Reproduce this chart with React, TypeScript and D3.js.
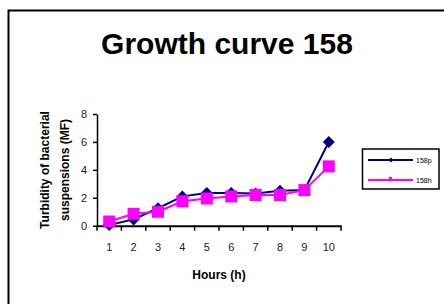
import React, { useEffect, useRef } from "react";
import * as d3 from "d3";

const hours = ["1", "2", "3", "4", "5", "6", "7", "8", "9", "10"];
const p158 = [0.05, 0.45, 1.25, 2.1, 2.35, 2.35, 2.3, 2.5, 2.55, 6.0];
const h158 = [0.3, 0.85, 1.0, 1.75, 1.95, 2.1, 2.2, 2.2, 2.55, 4.25];
const yTicks = [0, 2, 4, 6, 8];

const NAVY = "#000080";
const PINK = "#ff00ff";
const FONT = "Arial, 'Liberation Sans', sans-serif";

const App = () => {
  const svgRef = useRef<SVGSVGElement>(null);

  useEffect(() => {
    const svg = d3.select(svgRef.current);
    svg.selectAll("*").remove();

    const left = 97, right = 341, top = 114, bottom = 225.7;

    const x = d3.scaleBand().domain(hours).range([left, right]);
    const y = d3.scaleLinear().domain([0, 8]).range([bottom, top]);

    // outer frame
    svg.append("rect")
      .attr("x", 8.5).attr("y", 10.5)
      .attr("width", 600).attr("height", 500)
      .attr("fill", "white").attr("stroke", "black").attr("stroke-width", 2);

    svg.append("text")
      .attr("x", 227).attr("y", 54)
      .attr("text-anchor", "middle")
      .attr("font-family", FONT).attr("font-weight", "bold").attr("font-size", 30)
      .text("Growth curve 158");

    // axes
    const xAxis = svg.append("g")
      .attr("transform", `translate(0,${bottom})`)
      .call(d3.axisBottom(x).tickSize(0).tickPadding(18));
    xAxis.select(".domain").attr("stroke", "black").attr("stroke-width", 2);
    xAxis.selectAll("text").attr("font-family", FONT).attr("font-size", 11).attr("fill", "#222");
    xAxis.selectAll("line.bound")
      .data(d3.range(hours.length + 1))
      .join("line")
      .attr("class", "bound")
      .attr("x1", i => left + i * x.bandwidth())
      .attr("x2", i => left + i * x.bandwidth())
      .attr("y1", 0).attr("y2", 5)
      .attr("stroke", "black").attr("stroke-width", 1.5);

    const yAxis = svg.append("g")
      .attr("transform", `translate(${left},0)`)
      .call(d3.axisLeft(y).tickValues(yTicks).tickSize(4).tickPadding(6).tickSizeOuter(0));
    yAxis.select(".domain").attr("stroke", "black").attr("stroke-width", 1.5);
    yAxis.selectAll("line").attr("stroke", "black").attr("stroke-width", 1.5);
    yAxis.selectAll("text").attr("font-family", FONT).attr("font-size", 11).attr("fill", "#222");

    // axis titles
    svg.append("text")
      .attr("x", 219).attr("y", 279)
      .attr("text-anchor", "middle")
      .attr("font-family", FONT).attr("font-weight", "bold").attr("font-size", 12)
      .text("Hours (h)");

    const yt = svg.append("text")
      .attr("transform", "translate(49,170) rotate(-90)")
      .attr("text-anchor", "middle")
      .attr("font-family", FONT).attr("font-weight", "bold").attr("font-size", 12);
    yt.append("tspan").attr("x", 0).attr("dy", 0).text("Turbidity of bacterial");
    yt.append("tspan").attr("x", 0).attr("dy", 20).text("suspensions (MF)");

    const cx = (i: number) => (x(hours[i]) as number) + x.bandwidth() / 2;
    const line = d3.line<number>().x((_, i) => cx(i)).y(d => y(d));

    svg.append("path").datum(p158)
      .attr("d", line).attr("fill", "none").attr("stroke", NAVY).attr("stroke-width", 2);
    svg.append("path").datum(h158)
      .attr("d", line).attr("fill", "none").attr("stroke", PINK).attr("stroke-width", 2);

    const diamond = (px: number, py: number, r: number) =>
      `M${px},${py - r}L${px + r},${py}L${px},${py + r}L${px - r},${py}Z`;

    svg.append("g").selectAll("path")
      .data(p158)
      .join("path")
      .attr("d", (d, i) => diamond(cx(i), y(d), 6))
      .attr("fill", NAVY);

    svg.append("g").selectAll("rect")
      .data(h158)
      .join("rect")
      .attr("x", (d, i) => cx(i) - 6)
      .attr("y", d => y(d) - 6)
      .attr("width", 12).attr("height", 12)
      .attr("fill", PINK);

    // legend
    const lg = svg.append("g");
    lg.append("rect")
      .attr("x", 362.5).attr("y", 149)
      .attr("width", 76.5).attr("height", 40)
      .attr("fill", "white").attr("stroke", "black").attr("stroke-width", 1.5);
    const items = [
      { name: "158p", color: NAVY, yy: 160 },
      { name: "158h", color: PINK, yy: 180 },
    ];
    items.forEach((it, k) => {
      lg.append("line")
        .attr("x1", 368).attr("x2", 413).attr("y1", it.yy).attr("y2", it.yy)
        .attr("stroke", it.color).attr("stroke-width", 2);
      if (k === 0) {
        lg.append("path").attr("d", diamond(391, it.yy, 2.5)).attr("fill", it.color);
      } else {
        lg.append("rect").attr("x", 389).attr("y", it.yy - 3).attr("width", 3).attr("height", 3)
          .attr("fill", it.color);
      }
      lg.append("text")
        .attr("x", 416).attr("y", it.yy + 2.5)
        .attr("font-family", FONT).attr("font-size", 7)
        .text(it.name);
    });
  }, []);

  return (
    <svg
      ref={svgRef}
      width={444}
      height={304}
      style={{ position: "absolute", left: 0, top: 0, background: "white" }}
    ></svg>
  );
};

export default App;
